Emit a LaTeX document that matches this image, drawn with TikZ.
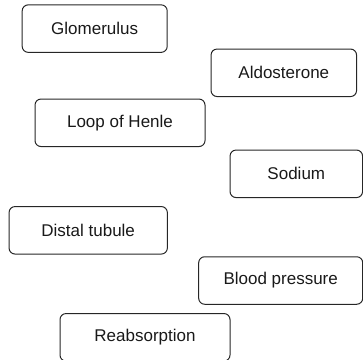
\documentclass[tikz,border=0pt]{standalone}
\usepackage{fontspec}
\setmainfont{Liberation Sans}
\usetikzlibrary{positioning}

\tikzset{
  term/.style={draw=black!85, line width=1pt, rounded corners=6pt,
    minimum height=47.5pt, inner sep=0pt, text=black!90,
    font=\fontsize{17}{20}\selectfont},
}

\begin{document}
\begin{tikzpicture}[x=1pt, y=-1pt]
  \useasboundingbox (0,0) rectangle (363,359);
  % terms, placed at their centres
  \node[term, minimum width=145pt] (glom) at (94.7,28.6) {Glomerulus};
  \node[term, minimum width=145.5pt] (aldo) at (283.8,72.8) {Aldosterone};
  \node[term, minimum width=170pt] (henle) at (120,122.8) {Loop of Henle};
  \node[term, minimum width=132.5pt] (sodium) at (296.3,173.8) {Sodium};
  \node[term, minimum width=158.3pt] (distal) at (88.2,230.3) {Distal tubule};
  \node[term, minimum width=164pt] (bp) at (280.7,280.5) {Blood pressure};
  \node[term, minimum width=170pt] (reabs) at (145,337.3) {Reabsorption};
\end{tikzpicture}
\end{document}
